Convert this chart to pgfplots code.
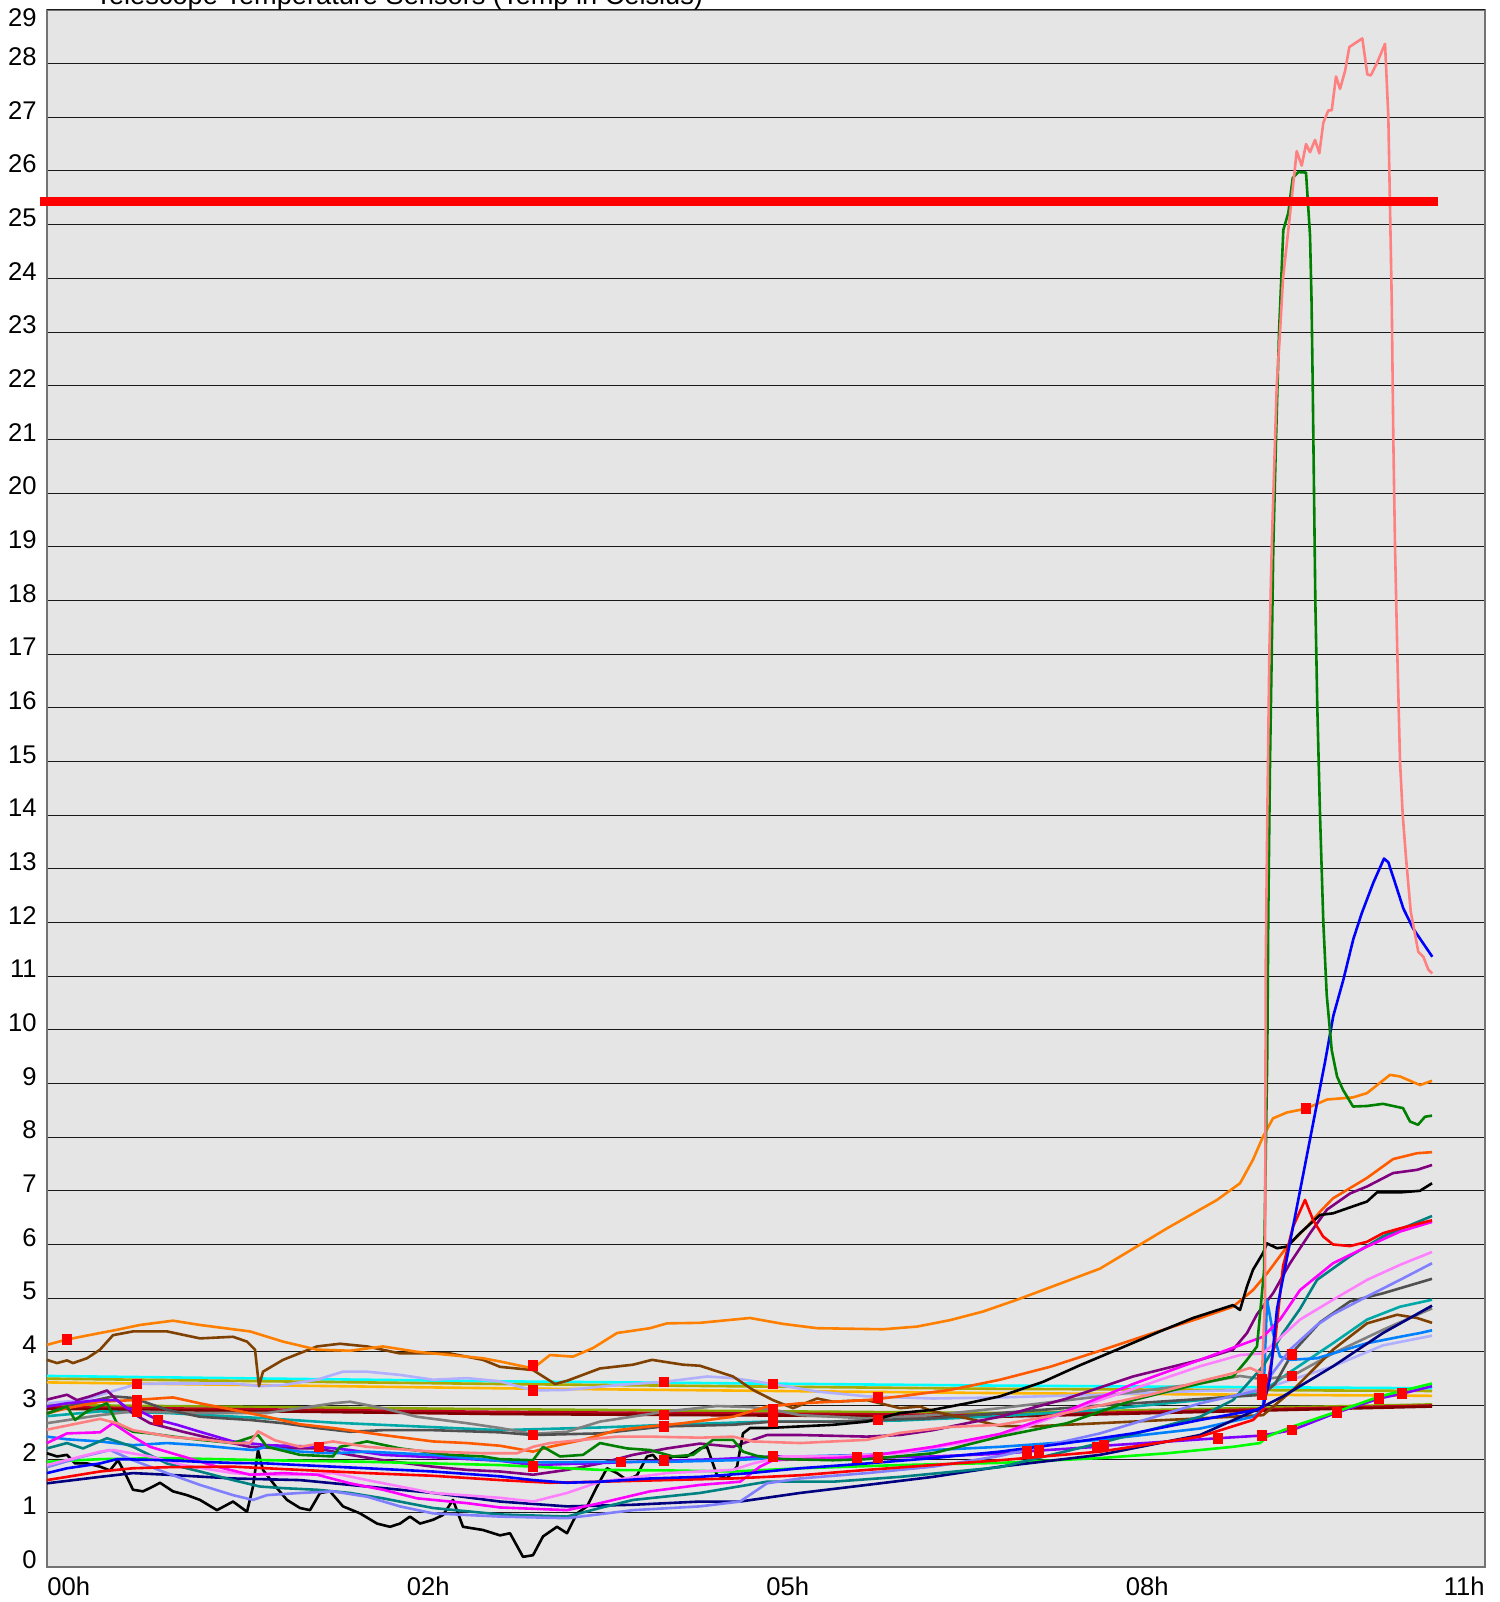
\documentclass[border=0pt]{standalone}
\usepackage{fontspec}
\setmainfont{Liberation Sans}
\usepackage{pgfplots}
\pgfplotsset{compat=1.18}
\definecolor{bgc}{HTML}{E5E5E5}
\definecolor{cOrange}{HTML}{FF8000}
\definecolor{cOrRed}{HTML}{FF5A00}
\definecolor{cBrown}{HTML}{804000}
\definecolor{cCyan}{HTML}{00FFFF}
\definecolor{cOlive}{HTML}{AAAA00}
\definecolor{cGold}{HTML}{FFB400}
\definecolor{cOlGreen}{HTML}{88A800}
\definecolor{cCrimson}{HTML}{C00020}
\definecolor{cMaroon}{HTML}{800000}
\definecolor{cLav}{HTML}{B0B0FF}
\definecolor{cGray}{HTML}{808080}
\definecolor{cDGray}{HTML}{505050}
\definecolor{cTeal2}{HTML}{00A8A8}
\definecolor{cPurple}{HTML}{800080}
\definecolor{cViolet}{HTML}{8000FF}
\definecolor{cGreen}{HTML}{008000}
\definecolor{cSalmon}{HTML}{FF8080}
\definecolor{cBlue}{HTML}{0000FF}
\definecolor{cDodger}{HTML}{0080FF}
\definecolor{cLime}{HTML}{00FF00}
\definecolor{cRed}{HTML}{FF0000}
\definecolor{cNavy}{HTML}{000080}
\definecolor{cMagenta}{HTML}{FF00FF}
\definecolor{cPink}{HTML}{FF80FF}
\definecolor{cPeri}{HTML}{8080FF}
\definecolor{cTeal}{HTML}{008080}
\begin{document}
\begin{tikzpicture}[font=\fontsize{12.5}{15}\selectfont]
\begin{axis}[name=ax, scale only axis, width=719pt, height=778.25pt,
  xmin=47, xmax=1485, ymin=0, ymax=29,
  axis background/.style={fill=bgc},
  axis line style={draw=black!55, line width=1pt},
  ytick={0,...,28},
  extra y ticks={29},
  extra y tick style={yticklabel style={yshift=-7.5pt}},
  ymajorgrids, major grid style={black!90, line width=0.5pt},
  xtick={47,406.5,766,1125.5}, xticklabels={00h,02h,05h,08h},
  extra x ticks={1485}, extra x tick labels={11h},
  extra x tick style={grid=none, xticklabel style={anchor=north east}},
  xticklabel style={anchor=north west, inner sep=0pt, yshift=-5pt},
  yticklabel style={anchor=east, inner sep=0pt, xshift=-5pt, yshift=3.5pt},
  major tick length=0pt, tick style={draw=none},
  tick label style={font=\fontsize{12.8}{15}\selectfont},
  /pgf/number format/assume math mode=true,
  clip=false,
  every axis plot/.append style={line width=1.3pt, mark=none, line join=round},
]
% flat sensors
\addplot[cCyan] coordinates {(47,3.55)(500,3.45)(1000,3.37)(1432,3.32)};
\addplot[cOlive] coordinates {(47,3.50)(500,3.40)(1000,3.31)(1432,3.27)};
\addplot[cGold] coordinates {(47,3.43)(500,3.32)(1000,3.23)(1432,3.18)};
\addplot[cOlGreen] coordinates {(47,3.01)(500,2.93)(1000,2.86)(1432,3.02)};
\addplot[cCrimson] coordinates {(47,2.97)(500,2.88)(1000,2.82)(1432,3.00)};
\addplot[cMaroon] coordinates {(47,2.94)(500,2.84)(1000,2.79)(1432,2.98)};
% lavender
\addplot[cLav] coordinates {(47,3.04)(83,3.10)(117,3.29)(137,3.40)(167,3.41)(233,3.41)(260,3.36)(283,3.38)(317,3.48)(343,3.63)(367,3.63)(400,3.57)(433,3.48)(467,3.51)(500,3.45)(533,3.28)(567,3.29)(617,3.38)(664,3.44)(707,3.54)(733,3.51)(773,3.40)(817,3.26)(867,3.17)(933,3.13)(1000,3.15)(1100,3.20)(1200,3.27)(1260,3.29)(1333,3.73)(1383,4.12)(1432,4.30)};
% teal2
\addplot[cTeal2] coordinates {(47,2.80)(100,2.89)(167,2.86)(267,2.76)(333,2.68)(417,2.61)(500,2.54)(600,2.59)(667,2.64)(767,2.70)(833,2.70)(900,2.72)(1000,2.80)(1100,2.92)(1200,3.10)(1260,3.23)(1293,3.66)(1333,4.16)(1367,4.60)(1400,4.84)(1432,4.97)};
% gray
\addplot[cGray] coordinates {(47,2.67)(100,2.82)(133,2.89)(200,2.86)(267,2.86)(300,2.95)(333,3.04)(350,3.07)(383,2.95)(417,2.79)(467,2.67)(500,2.58)(533,2.47)(567,2.51)(600,2.70)(667,2.89)(717,2.99)(750,2.97)(773,2.92)(800,2.82)(867,2.76)(933,2.82)(1000,2.95)(1100,3.17)(1200,3.41)(1240,3.55)(1262,3.49)(1292,3.55)(1333,3.97)(1383,4.41)(1432,4.81)};
% dark gray
\addplot[cDGray] coordinates {(47,2.85)(67,2.98)(113,3.17)(133,3.14)(167,2.92)(200,2.79)(250,2.73)(283,2.67)(317,2.58)(350,2.51)(383,2.54)(433,2.54)(500,2.50)(533,2.45)(600,2.48)(664,2.61)(733,2.64)(773,2.70)(833,2.70)(878,2.73)(933,2.76)(1000,2.86)(1100,3.00)(1200,3.12)(1262,3.20)(1275,3.40)(1293,4.00)(1320,4.55)(1350,4.94)(1383,5.09)(1432,5.36)};
% brown
\addplot[cBrown] coordinates {(47,3.85)(57,3.79)(67,3.84)(73,3.79)(87,3.88)(100,4.04)(113,4.31)(133,4.38)(167,4.38)(200,4.25)(233,4.28)(247,4.19)(255,4.04)(259,3.36)(263,3.63)(283,3.85)(317,4.10)(340,4.15)(367,4.10)(400,3.97)(450,3.97)(483,3.85)(500,3.72)(533,3.66)(555,3.40)(567,3.46)(600,3.69)(633,3.76)(652,3.85)(683,3.76)(700,3.74)(733,3.54)(753,3.29)(773,3.10)(793,2.95)(817,3.13)(833,3.07)(867,3.10)(900,2.95)(920,2.98)(933,2.89)(967,2.76)(1000,2.62)(1033,2.61)(1100,2.67)(1200,2.76)(1263,2.82)(1293,3.29)(1333,4.04)(1367,4.53)(1397,4.69)(1417,4.63)(1432,4.54)};
% orange
\addplot[cOrange] coordinates {(47,4.13)(67,4.23)(100,4.35)(117,4.41)(140,4.50)(173,4.58)(200,4.50)(233,4.42)(250,4.38)(283,4.19)(317,4.04)(350,4.02)(383,4.10)(417,4.00)(450,3.94)(483,3.88)(500,3.82)(533,3.69)(550,3.94)(573,3.91)(593,4.07)(617,4.35)(650,4.44)(667,4.53)(700,4.54)(750,4.63)(783,4.52)(817,4.44)(883,4.42)(917,4.47)(950,4.59)(983,4.75)(1017,4.97)(1050,5.20)(1100,5.55)(1167,6.30)(1217,6.83)(1240,7.14)(1253,7.58)(1263,8.01)(1273,8.35)(1287,8.46)(1306,8.53)(1327,8.70)(1353,8.74)(1367,8.82)(1390,9.16)(1400,9.13)(1420,8.97)(1432,9.05)};
% orange-red
\addplot[cOrRed] coordinates {(47,2.85)(67,2.95)(100,3.07)(133,3.10)(173,3.15)(200,3.04)(233,2.92)(267,2.79)(300,2.65)(333,2.58)(383,2.45)(433,2.33)(467,2.30)(500,2.25)(533,2.14)(550,2.23)(583,2.36)(617,2.54)(650,2.61)(683,2.67)(733,2.79)(767,2.98)(800,3.04)(833,3.07)(867,3.10)(900,3.17)(950,3.29)(1000,3.48)(1050,3.72)(1100,4.02)(1150,4.33)(1200,4.63)(1233,4.84)(1253,5.15)(1267,5.46)(1287,5.96)(1307,6.33)(1320,6.61)(1333,6.86)(1367,7.24)(1393,7.59)(1417,7.70)(1432,7.72)};
% purple
\addplot[cPurple] coordinates {(47,3.11)(67,3.20)(77,3.10)(90,3.17)(107,3.28)(117,3.10)(133,2.85)(150,2.67)(183,2.51)(217,2.36)(250,2.23)(283,2.20)(317,2.20)(350,2.08)(383,1.98)(433,1.86)(467,1.80)(500,1.77)(533,1.71)(567,1.80)(600,1.92)(633,2.08)(667,2.20)(700,2.29)(733,2.23)(753,2.36)(767,2.45)(800,2.45)(867,2.42)(900,2.45)(933,2.54)(967,2.67)(1000,2.79)(1067,3.13)(1133,3.54)(1200,3.85)(1233,4.04)(1247,4.35)(1257,4.70)(1273,5.09)(1290,5.65)(1310,6.21)(1327,6.65)(1350,6.95)(1367,7.08)(1393,7.33)(1417,7.39)(1432,7.48)};
% black
\addplot[black] coordinates {(47,2.11)(57,2.05)(67,2.08)(75,1.92)(87,1.92)(100,1.86)(110,1.79)(118,1.98)(125,1.74)(133,1.43)(143,1.40)(153,1.49)(160,1.56)(173,1.40)(187,1.33)(200,1.24)(217,1.05)(233,1.21)(247,1.02)(253,1.49)(258,2.17)(263,1.80)(277,1.46)(287,1.24)(300,1.09)(310,1.05)(320,1.37)(330,1.40)(343,1.12)(360,0.99)(377,0.80)(390,0.74)(400,0.80)(410,0.93)(420,0.80)(433,0.87)(443,0.96)(453,1.24)(463,0.74)(483,0.68)(500,0.58)(510,0.62)(523,0.18)(533,0.21)(543,0.56)(557,0.74)(567,0.62)(577,0.99)(587,1.12)(597,1.49)(607,1.83)(617,1.74)(627,1.61)(637,1.70)(647,2.05)(653,2.08)(660,1.92)(673,2.05)(687,2.05)(700,2.20)(707,2.23)(717,1.70)(727,1.64)(737,1.86)(743,2.48)(750,2.58)(767,2.58)(800,2.61)(833,2.64)(867,2.70)(900,2.86)(933,2.92)(967,3.04)(1000,3.17)(1043,3.44)(1080,3.75)(1117,4.04)(1160,4.38)(1193,4.63)(1233,4.87)(1240,4.78)(1247,5.22)(1253,5.53)(1263,5.84)(1267,6.02)(1277,5.93)(1287,5.96)(1300,6.21)(1320,6.55)(1333,6.58)(1353,6.71)(1367,6.80)(1377,6.97)(1400,6.97)(1420,7.00)(1432,7.14)};
% violet
\addplot[cViolet] coordinates {(47,2.98)(67,3.04)(100,3.10)(117,3.10)(127,2.95)(137,2.92)(158,2.73)(177,2.64)(200,2.51)(233,2.33)(267,2.26)(319,2.23)(350,2.17)(383,2.08)(417,2.05)(450,2.02)(500,1.97)(533,1.89)(621,1.94)(664,1.97)(717,2.00)(773,2.05)(857,2.03)(878,2.03)(933,2.05)(1000,2.10)(1027,2.14)(1039,2.16)(1097,2.23)(1104,2.25)(1218,2.39)(1262,2.44)(1292,2.54)(1337,2.87)(1379,3.13)(1402,3.22)(1432,3.36)};
% dodger blue
\addplot[cDodger] coordinates {(47,2.42)(67,2.37)(100,2.33)(133,2.26)(167,2.30)(200,2.26)(233,2.20)(253,2.17)(267,2.23)(300,2.14)(333,2.11)(367,2.14)(400,2.11)(433,2.08)(467,2.02)(500,1.97)(533,1.94)(600,1.95)(667,1.95)(733,1.98)(800,2.05)(867,2.08)(933,2.17)(1000,2.23)(1100,2.36)(1200,2.57)(1253,2.79)(1263,2.92)(1267,4.97)(1273,4.35)(1280,3.91)(1290,3.85)(1317,3.88)(1333,3.97)(1367,4.16)(1400,4.28)(1420,4.35)(1432,4.40)};
% lime
\addplot[cLime] coordinates {(47,1.95)(100,2.00)(167,2.02)(267,1.98)(367,1.95)(500,1.89)(600,1.80)(667,1.79)(733,1.77)(800,1.83)(900,1.89)(1000,1.93)(1100,2.02)(1167,2.11)(1233,2.23)(1260,2.30)(1267,2.42)(1293,2.61)(1333,2.86)(1380,3.17)(1432,3.41)};
% navy
\addplot[cNavy] coordinates {(47,1.55)(100,1.67)(133,1.74)(167,1.71)(233,1.64)(300,1.61)(367,1.49)(433,1.37)(500,1.21)(567,1.12)(633,1.15)(700,1.21)(740,1.21)(800,1.37)(867,1.52)(933,1.67)(1000,1.86)(1100,2.08)(1200,2.45)(1260,2.95)(1283,3.17)(1333,3.73)(1383,4.35)(1432,4.86)};
% teal
\addplot[cTeal] coordinates {(47,2.20)(67,2.30)(83,2.20)(107,2.39)(133,2.23)(167,1.92)(200,1.77)(233,1.61)(260,1.49)(283,1.46)(317,1.43)(350,1.37)(383,1.27)(433,1.09)(500,0.97)(567,0.93)(600,1.09)(633,1.24)(700,1.37)(767,1.58)(833,1.58)(900,1.67)(1000,1.85)(1100,2.30)(1200,2.79)(1233,3.10)(1263,3.73)(1283,4.35)(1300,4.80)(1317,5.34)(1350,5.78)(1383,6.15)(1432,6.53)};
% periwinkle
\addplot[cPeri] coordinates {(47,1.85)(83,2.05)(110,2.17)(133,1.98)(167,1.74)(200,1.52)(233,1.33)(253,1.24)(267,1.33)(300,1.37)(333,1.40)(367,1.30)(400,1.12)(433,0.99)(500,0.93)(567,0.90)(633,1.05)(700,1.12)(740,1.21)(767,1.55)(800,1.64)(867,1.74)(933,1.86)(1000,2.06)(1100,2.48)(1200,3.04)(1260,3.29)(1290,4.04)(1317,4.50)(1333,4.70)(1367,5.03)(1400,5.34)(1432,5.65)};
% pink
\addplot[cPink] coordinates {(47,1.89)(100,2.14)(113,2.17)(150,2.05)(183,1.89)(233,1.74)(260,1.71)(300,1.71)(333,1.74)(367,1.61)(400,1.49)(433,1.37)(500,1.28)(533,1.21)(567,1.37)(600,1.58)(667,1.74)(733,1.80)(753,1.92)(783,2.05)(833,2.05)(900,2.11)(1000,2.42)(1100,3.10)(1200,3.73)(1240,3.94)(1263,3.97)(1300,4.60)(1333,4.97)(1367,5.34)(1400,5.62)(1432,5.86)};
% magenta
\addplot[cMagenta] coordinates {(47,2.30)(67,2.48)(100,2.50)(113,2.67)(133,2.42)(150,2.23)(183,2.05)(217,1.86)(250,1.71)(283,1.74)(317,1.71)(350,1.55)(383,1.43)(417,1.27)(467,1.18)(500,1.10)(567,1.05)(600,1.18)(650,1.40)(700,1.52)(740,1.58)(760,1.86)(773,1.98)(833,2.02)(867,2.05)(933,2.23)(1000,2.47)(1067,2.90)(1133,3.40)(1200,3.85)(1263,4.28)(1280,4.60)(1300,5.15)(1333,5.65)(1367,5.96)(1400,6.24)(1432,6.42)};
% red
\addplot[cRed] coordinates {(47,1.61)(67,1.67)(100,1.77)(133,1.83)(167,1.85)(233,1.86)(267,1.83)(300,1.80)(367,1.74)(433,1.69)(500,1.61)(550,1.56)(600,1.58)(667,1.61)(733,1.64)(800,1.70)(867,1.80)(933,1.89)(1000,1.98)(1100,2.14)(1200,2.42)(1253,2.73)(1263,2.92)(1275,4.20)(1283,5.59)(1293,6.33)(1305,6.83)(1313,6.46)(1323,6.15)(1333,6.00)(1350,5.97)(1367,6.05)(1383,6.21)(1400,6.30)(1432,6.45)};
% blue
\addplot[cBlue] coordinates {(47,1.74)(67,1.83)(100,1.92)(117,2.00)(167,1.98)(200,1.95)(233,1.93)(267,1.92)(300,1.89)(333,1.86)(367,1.83)(400,1.80)(433,1.77)(500,1.68)(533,1.61)(567,1.56)(600,1.58)(650,1.64)(700,1.67)(750,1.74)(800,1.83)(867,1.92)(933,2.02)(1000,2.14)(1067,2.30)(1133,2.48)(1200,2.73)(1257,2.92)(1263,2.98)(1270,3.50)(1277,4.80)(1300,7.00)(1325,9.40)(1333.3,10.26)(1343.3,10.93)(1353.3,11.69)(1361.7,12.17)(1373.3,12.74)(1384,13.19)(1388.3,13.12)(1395,12.74)(1403.3,12.26)(1413.3,11.88)(1432.3,11.36)};
% green
\addplot[cGreen] coordinates {(47,2.85)(67,2.98)(75,2.73)(87,2.89)(107,3.04)(117,2.67)(133,2.51)(150,2.48)(173,2.42)(200,2.36)(233,2.30)(258,2.45)(267,2.23)(300,2.08)(333,2.05)(340,2.23)(367,2.33)(400,2.20)(450,2.08)(483,2.05)(500,2.00)(533,1.98)(543,2.23)(560,2.05)(583,2.08)(600,2.30)(627,2.20)(650,2.17)(673,2.05)(693,2.08)(713,2.36)(733,2.36)(743,2.14)(757,2.06)(783,2.00)(833,1.98)(867,2.00)(933,2.11)(1000,2.42)(1067,2.67)(1133,3.10)(1200,3.41)(1233,3.54)(1247,3.85)(1257,4.10)(1264,5.50)(1267.3,9.6)(1268.3,12.2)(1270,15)(1271.7,17)(1273.3,19)(1276,21)(1279,23)(1283.3,24.9)(1288.3,25.22)(1292.7,25.87)(1298.3,25.98)(1306,25.97)(1310,24.8)(1311.5,23.6)(1312.7,22)(1314,20)(1315.3,18)(1317.3,16)(1320,14)(1323.3,12)(1326.7,10.65)(1331.7,9.62)(1337,9.13)(1343,8.88)(1353,8.57)(1367,8.58)(1383,8.62)(1403,8.54)(1410,8.29)(1418,8.23)(1425,8.38)(1432,8.40)};
% salmon
\addplot[cSalmon] coordinates {(47,2.55)(100,2.75)(117,2.67)(133,2.54)(173,2.41)(207,2.36)(233,2.30)(250,2.30)(258,2.52)(275,2.35)(300,2.23)(333,2.33)(367,2.23)(433,2.14)(483,2.11)(517,2.11)(533,2.23)(550,2.30)(583,2.36)(617,2.42)(650,2.42)(700,2.40)(733,2.42)(753,2.33)(800,2.30)(833,2.33)(867,2.36)(900,2.49)(950,2.60)(1000,2.64)(1050,2.80)(1100,3.00)(1150,3.20)(1200,3.45)(1233,3.60)(1250,3.70)(1262,3.60)(1265,5.0)(1265.7,11.2)(1267.3,14)(1269.3,17)(1271.7,19)(1276.7,22)(1280,23)(1283,24)(1288.3,24.9)(1296.7,26.37)(1301.7,26.1)(1306,26.5)(1310,26.35)(1315,26.58)(1319.3,26.33)(1323.3,26.9)(1328.3,27.13)(1331.7,27.13)(1336,27.76)(1340,27.53)(1345,27.86)(1349.3,28.31)(1362.3,28.47)(1367.3,27.8)(1370.7,27.78)(1376.7,28.0)(1385,28.37)(1388.3,27.02)(1391.7,23.6)(1393.3,21)(1395,19)(1397.3,17)(1400,15)(1402.7,14)(1406,13.2)(1410.7,12.2)(1418.3,11.45)(1423.3,11.36)(1428.3,11.12)(1432.3,11.05)};
% threshold
\addplot[red, line width=4.5pt] coordinates {(40,25.44)(1438,25.44)};
% event markers
\addplot[only marks, mark=square*, mark size=2.4pt, mark options={fill=red, draw=red, line width=0pt}] coordinates {(67,4.23)(137,3.40)(137,3.10)(137,2.98)(137,2.88)(158,2.73)(319,2.23)(533,3.74)(533,3.28)(533,2.45)(533,1.86)(621,1.95)(664,3.44)(664,2.82)(664,2.61)(664,1.97)(773,3.40)(773,2.92)(773,2.80)(773,2.70)(773,2.05)(857,2.03)(878,3.15)(878,2.73)(878,2.03)(1027,2.14)(1039,2.16)(1097,2.23)(1104,2.25)(1218,2.39)(1262,3.49)(1262,3.35)(1262,3.20)(1262,2.44)(1292,3.95)(1292,3.55)(1292,2.54)(1306,8.53)(1337,2.87)(1379,3.13)(1402,3.22)};
\end{axis}
\node[anchor=base west, inner sep=0pt, xshift=24pt, yshift=2.75pt, font=\fontsize{13.6}{16}\selectfont] at (ax.north west) {Telescope Temperature Sensors (Temp in Celsius)};
\pgfresetboundingbox
\path ([xshift=-23.5pt,yshift=-17.75pt]ax.south west) rectangle ([xshift=7pt,yshift=5pt]ax.north east);
\end{tikzpicture}
\end{document}
